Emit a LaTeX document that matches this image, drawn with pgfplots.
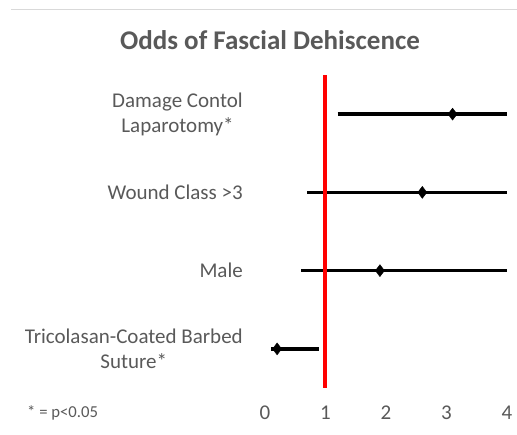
\documentclass[border=0pt]{standalone}
\usepackage{pgfplots}
\pgfplotsset{compat=1.18}
\usepackage{fontspec}
\setmainfont{Carlito}
\definecolor{txt}{HTML}{595959}
\definecolor{topline}{HTML}{D9D9D9}
\begin{document}
\begin{tikzpicture}
\path[use as bounding box] (0pt,0pt) rectangle (517pt,435pt);
\draw[topline, line width=1pt] (11pt,425pt) -- (517pt,425pt);
\begin{axis}[
  at={(265pt,47pt)}, anchor=south west,
  scale only axis, width=242pt, height=313pt,
  xmin=0, xmax=4, ymin=0.5, ymax=4.5,
  axis line style={draw=none}, major tick style={draw=none},
  xtick={0,1,2,3,4}, xticklabels={0,1,2,3,4},
  ytick={1,2,3,4},
  yticklabels={{Tricolasan-Coated Barbed\\Suture*},{Male},{Wound Class >3},{Damage Contol\\Laparotomy*}},
  xticklabel style={anchor=center, inner sep=0pt, yshift=-25pt, text=txt, font=\fontsize{21}{25}\selectfont},
  yticklabel style={anchor=east, inner sep=0pt, xshift=-22pt, align=center, text=txt, font=\fontsize{21}{25}\selectfont},
  clip=false,
]
\addplot[black, line width=3.5pt] coordinates {(1.2,4) (4,4)};
\addplot[black, line width=3.5pt] coordinates {(0.7,3) (4,3)};
\addplot[black, line width=3.5pt] coordinates {(0.6,2) (4,2)};
\addplot[black, line width=3.5pt] coordinates {(0.1,1) (0.9,1)};
\addplot[only marks, mark=diamond*, mark size=6pt, black] coordinates {(3.1,4) (2.6,3) (1.9,2) (0.2,1)};
\addplot[red, line width=4pt] coordinates {(1,0.5) (1,4.5)};
\end{axis}
\node[font=\fontsize{27}{32}\selectfont\bfseries, text=txt] at (270pt,395pt) {Odds of Fascial Dehiscence};
\node[anchor=west, inner sep=0pt, font=\fontsize{16.7}{20}\selectfont, text=txt] at (27pt,22pt) {* = p<0.05};
\end{tikzpicture}
\end{document}
